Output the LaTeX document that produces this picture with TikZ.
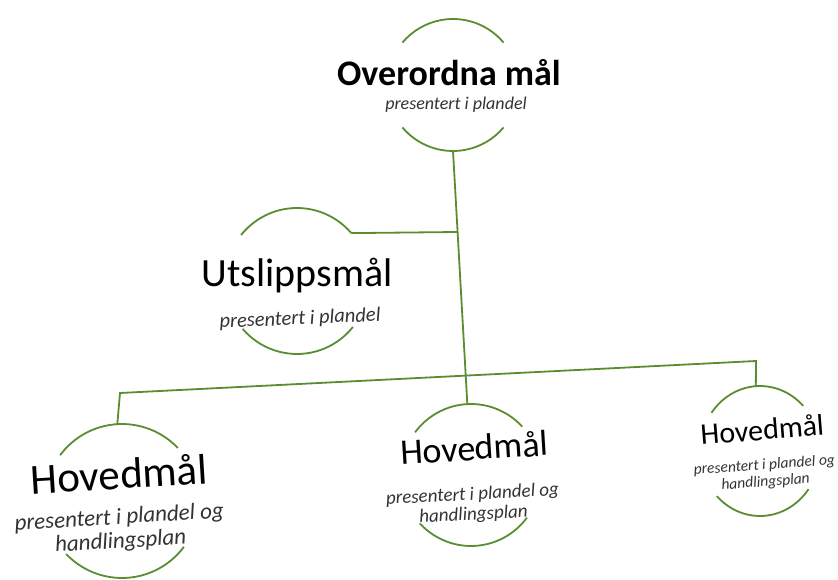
\documentclass[tikz,border=0pt]{standalone}
\usepackage{fontspec}
\setmainfont{Carlito}
\usetikzlibrary{calc}
\usepackage{xcolor}
\definecolor{Leaf}{HTML}{5A8C32}
\definecolor{Note}{HTML}{333333}
% ring of a goal: name, x, y, x radius, y radius, tilt
\newcommand{\GoalRing}[6]{%
  \coordinate (#1) at (#2,#3);
  \pgfmathsetmacro\ringA{-40-(#6)}\pgfmathsetmacro\ringB{-140-(#6)}%
  \pgfmathsetmacro\ringC{-220-(#6)}\pgfmathsetmacro\ringD{-320-(#6)}%
  \pgfmathsetmacro\ringT{-90-(#6)}\pgfmathsetmacro\ringU{-270-(#6)}%
  \coordinate (#1-tr) at ($(#1)+(\ringA:#4 and #5)$);
  \coordinate (#1-top) at ($(#1)+(\ringT:#4 and #5)$);
  \coordinate (#1-bot) at ($(#1)+(\ringU:#4 and #5)$);
  \draw[ring] (#1-tr) arc[start angle=\ringA,end angle=\ringB,x radius=#4,y radius=#5];
  \draw[ring] ($(#1)+(\ringC:#4 and #5)$) arc[start angle=\ringC,end angle=\ringD,x radius=#4,y radius=#5];
}

\begin{document}
\begin{tikzpicture}[x=1pt,y=-1pt,
  ring/.style={draw=Leaf,line width=1.8pt},
  goal/.style={anchor=base,inner sep=0pt,text=black},
  note/.style={inner sep=0pt,align=center,text=Note,font=\itshape}]
\useasboundingbox (0,0) rectangle (838,580);

% rings
\GoalRing{ovr}{453}{85}{66}{66}{0}
\GoalRing{uts}{297}{281}{72}{73}{1}
\GoalRing{lft}{122}{501}{77}{77}{3.5}
\GoalRing{mid}{471}{475}{70}{71}{3}
\GoalRing{rgt}{760}{451}{60}{65}{4}

% texts
\node[goal,font=\bfseries\fontsize{36}{36}\selectfont] (ovr-t) at (449,86) {Overordna mål};
\node[note,font=\itshape\fontsize{18}{18}\selectfont] (ovr-n) at (456,105) {presentert i plandel};
\node[goal,font=\fontsize{40}{40}\selectfont] (uts-t) at (297,287) {Utslippsmål};
\node[note,font=\itshape\fontsize{20.5}{20.5}\selectfont,rotate=2.5] (uts-n) at (300,319) {presentert i plandel};
\node[goal,font=\fontsize{43}{43}\selectfont,rotate=3.5] (lft-t) at (120,489) {Hovedmål};
\node[note,font=\itshape\fontsize{23}{24}\selectfont,rotate=3.5] (lft-n) at (120,530) {presentert i plandel og\\handlingsplan};
\node[goal,font=\fontsize{36}{36}\selectfont,rotate=3.5] (mid-t) at (475,460) {Hovedmål};
\node[note,font=\itshape\fontsize{19}{20}\selectfont,rotate=3] (mid-n) at (473,505) {presentert i plandel og\\handlingsplan};
\node[goal,font=\fontsize{30}{30}\selectfont,rotate=4.5] (rgt-t) at (763,440) {Hovedmål};
\node[note,font=\itshape\fontsize{15.5}{17}\selectfont,rotate=4] (rgt-n) at (765,474) {presentert i plandel og\\handlingsplan};

% connectors
\coordinate (fork) at ($(ovr-bot)!0.32!(mid-top)$);
\coordinate (busL) at (120,393);
\coordinate (busR) at (756,361);
\draw[ring] (ovr-bot) -- (mid-top);
\draw[ring] (fork) -- (uts-tr);
\draw[ring] (lft-top) -- (busL) -- (busR) -- (rgt-top);
\end{tikzpicture}
\end{document}
